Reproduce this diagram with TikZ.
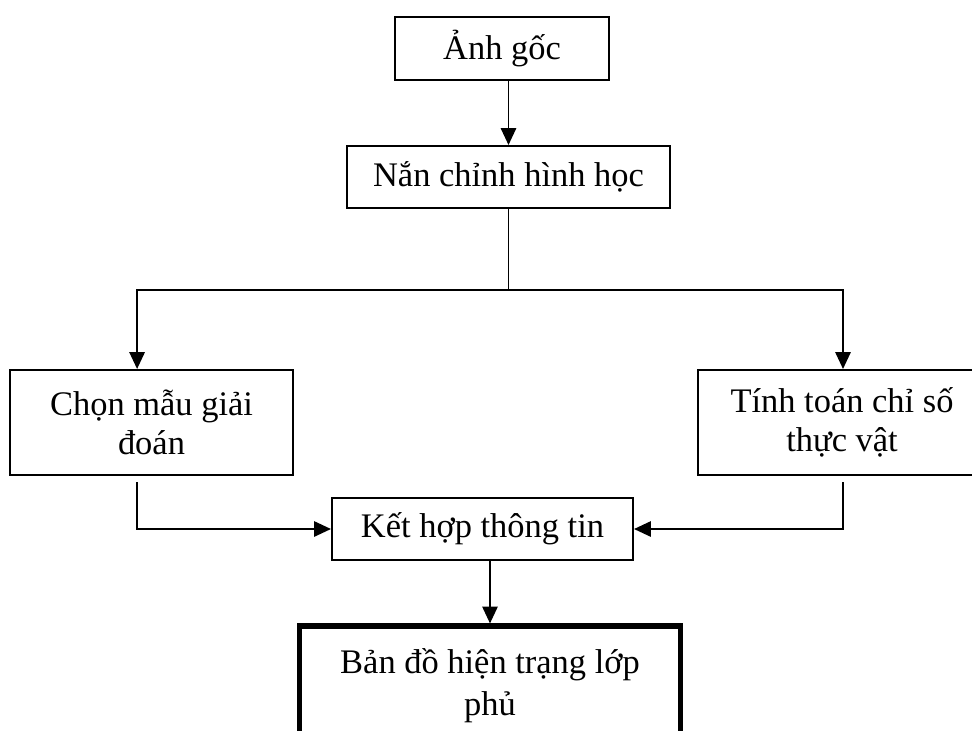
\documentclass[tikz,border=0pt]{standalone}
\usepackage{fontspec}
\setmainfont{Liberation Serif}
\usetikzlibrary{arrows.meta,positioning}

\begin{document}
\begin{tikzpicture}[
  x=0.025cm, y=-0.025cm,
  every node/.style={font=\fontsize{24.5}{28}\selectfont},
  stepbox/.style={draw,line width=1.4pt,align=center,inner sep=0pt},
  endbox/.style={stepbox,line width=3.6pt},
  arr/.style={-{Triangle[length=0.42cm,width=0.38cm]},line width=1.4pt},
  ln/.style={line width=1.4pt},
]
  \useasboundingbox (0,0) rectangle (972,730);

  % Input image
  \node[stepbox,minimum width=5.35cm,minimum height=1.575cm] (src) at (502,48.5)
    {Ảnh gốc};

  % Geometric correction
  \node[stepbox,minimum width=8.075cm,minimum height=1.55cm] (geo) at (508.5,177)
    {Nắn chỉnh hình học};
  \coordinate (split) at (508.5,290);

  % Two branches
  \node[stepbox,minimum width=7.075cm,minimum height=2.625cm] (sel) at (151.5,422.5)
    {Chọn mẫu giải\\đoán};
  \node[stepbox,minimum width=7.2cm,minimum height=2.625cm] (ndvi) at (842,422.5)
    {Tính toán chỉ số\\thực vật};

  % Merge
  \node[stepbox,minimum width=7.525cm,minimum height=1.55cm] (mix) at (482.5,529)
    {Kết hợp thông tin};

  % Result map
  \node[endbox,minimum width=9.5cm,minimum height=3cm,
        font=\fontsize{24.5}{30}\selectfont] (map) at (490,686)
    {Bản đồ hiện trạng lớp\\phủ};

  % Arrows
  \draw[arr] (src.south -| geo.north) -- (geo.north);
  \draw[ln] (geo.south) -- (split);
  \draw[arr] (split) -| ([xshift=-0.36cm]sel.north);
  \draw[arr] (split) -| ([xshift=0.025cm]ndvi.north);
  \draw[arr] ([xshift=-0.36cm,yshift=-0.15cm]sel.south) |- (mix.west);
  \draw[arr] ([xshift=0.025cm,yshift=-0.15cm]ndvi.south) |- (mix.east);
  \draw[arr] (mix.south -| map.north) -- (map.north);
\end{tikzpicture}
\end{document}
